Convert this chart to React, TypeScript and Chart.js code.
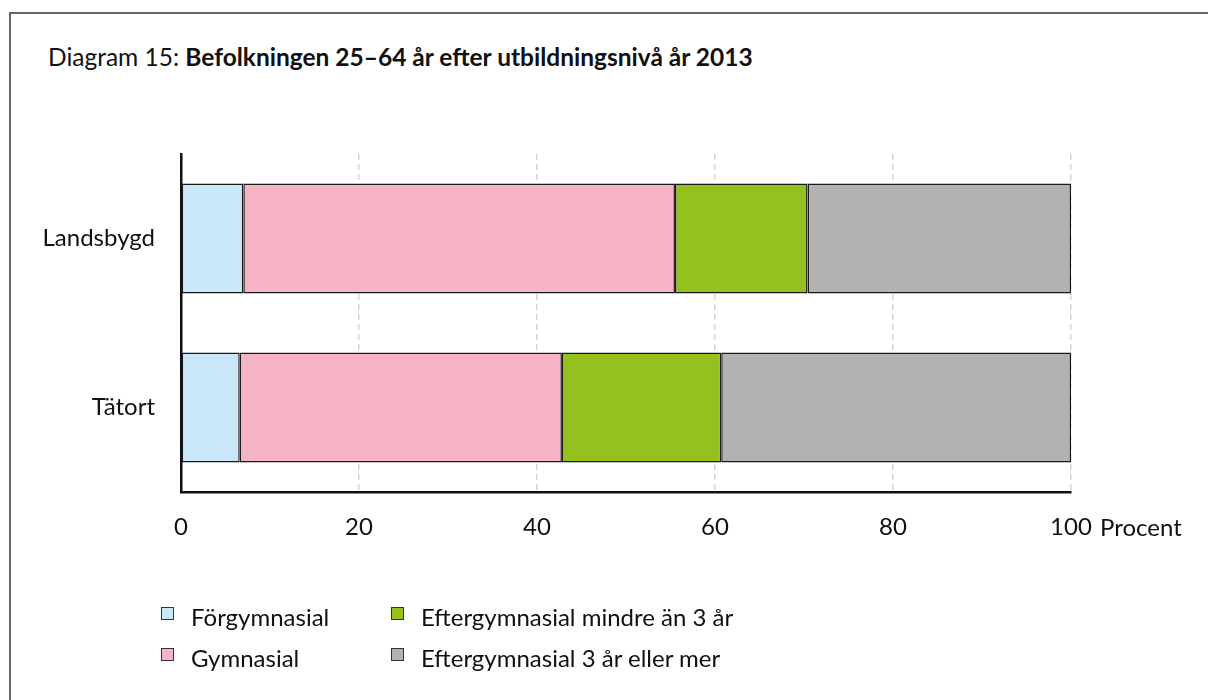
import React, { useEffect, useRef } from "react";
import { Chart, registerables } from "chart.js";

Chart.register(...registerables);

const categories = ["Landsbygd", "Tätort"];
const seriesNames = [
  "Förgymnasial",
  "Gymnasial",
  "Eftergymnasial mindre än 3 år",
  "Eftergymnasial 3 år eller mer",
];
const forgymnasial = [7.0, 6.6];
const gymnasial = [48.5, 36.2];
const eftergymnasialKort = [14.9, 17.9];
const eftergymnasialLang = [29.6, 39.3];
const seriesColors = ["#C9E7F8", "#F5B3C4", "#95C11F", "#B2B2B2"];
const xTicks = [0, 20, 40, 60, 80, 100];
const axisUnit = "Procent";
const titlePrefix = "Diagram 15: ";
const titleBold = "Befolkningen 25–64 år efter utbildningsnivå år 2013";

const FONT = "Lato, 'Open Sans', sans-serif";

export default function App() {
  const canvasRef = useRef<HTMLCanvasElement | null>(null);

  useEffect(() => {
    if (!canvasRef.current) return;
    const values = [forgymnasial, gymnasial, eftergymnasialKort, eftergymnasialLang];
    const unitPlugin = {
      id: "unitLabel",
      afterDraw(chart: any) {
        const xs = chart.scales.x;
        const ctx = chart.ctx;
        ctx.save();
        ctx.font = `24px ${FONT}`;
        ctx.fillStyle = "#111";
        ctx.textAlign = "left";
        ctx.textBaseline = "middle";
        ctx.fillText(axisUnit, xs.getPixelForValue(100) + 29, 528);
        ctx.restore();
      },
    };
    const chart = new Chart(canvasRef.current, {
      type: "bar",
      data: {
        labels: categories,
        datasets: seriesNames.map((name, i) => ({
          label: name,
          data: values[i],
          backgroundColor: seriesColors[i],
          borderColor: "#1a1a1a",
          borderWidth: 1.5,
          borderSkipped: false,
          categoryPercentage: 1,
          barPercentage: 0.65,
        })),
      },
      options: {
        indexAxis: "y",
        animation: false,
        responsive: false,
        maintainAspectRatio: false,
        layout: { padding: { left: 0, right: 137, top: 154, bottom: 148 } },
        plugins: {
          legend: { display: false },
          tooltip: { enabled: false },
          title: { display: false },
        },
        scales: {
          x: {
            stacked: true,
            min: 0,
            max: 100,
            afterFit: (s: any) => {
              s.height = 60;
            },
            afterBuildTicks: (s: any) => {
              s.ticks = xTicks.map((v) => ({ value: v }));
            },
            grid: {
              color: "#d4d4d4",
              lineWidth: 1.5,
              drawTicks: false,
            },
            border: { display: true, color: "#111", width: 2.5, dash: [6, 4] },
            ticks: {
              font: { family: FONT, size: 24 },
              color: "#111",
              padding: 21,
              maxRotation: 0,
            },
          },
          y: {
            stacked: true,
            afterFit: (s: any) => {
              s.width = 181;
            },
            grid: { display: false, drawTicks: false },
            border: { display: true, color: "#111", width: 2.5 },
            ticks: {
              font: { family: FONT, size: 24 },
              color: "#111",
              padding: 26,
            },
          },
        },
      },
      plugins: [unitPlugin],
    });
    return () => chart.destroy();
  }, []);

  const legendItem = (i: number, left: number, top: number, textLeft: number) => (
    <React.Fragment key={i}>
      <div
        style={{
          position: "absolute",
          left,
          top,
          width: 11,
          height: 11,
          background: seriesColors[i],
          border: "1.5px solid #333",
        }}
      />
      <div
        style={{
          position: "absolute",
          left: textLeft,
          top: top - 4,
          fontSize: 24,
          lineHeight: "28.8px",
          color: "#111",
          whiteSpace: "nowrap",
        }}
      >
        {seriesNames[i]}
      </div>
    </React.Fragment>
  );

  return (
    <div
      style={{
        position: "fixed",
        left: 0,
        top: 0,
        width: 1208,
        height: 700,
        background: "#fff",
        overflow: "hidden",
        fontFamily: FONT,
      }}
    >
      <div
        style={{
          position: "absolute",
          left: 9,
          top: 12,
          width: 1400,
          height: 900,
          border: "2px solid #666",
        }}
      />
      <div
        style={{
          position: "absolute",
          left: 48,
          top: 42,
          fontSize: 24.5,
          color: "#111",
          whiteSpace: "nowrap",
          lineHeight: "30px",
        }}
      >
        {titlePrefix}
        <b>{titleBold}</b>
      </div>
      <canvas
        ref={canvasRef}
        width={1208}
        height={700}
        style={{ position: "absolute", left: 0, top: 0, width: 1208, height: 700 }}
      />
      {legendItem(0, 161, 607, 191)}
      {legendItem(1, 161, 648, 191)}
      {legendItem(2, 391, 607, 421)}
      {legendItem(3, 391, 648, 421)}
    </div>
  );
}
